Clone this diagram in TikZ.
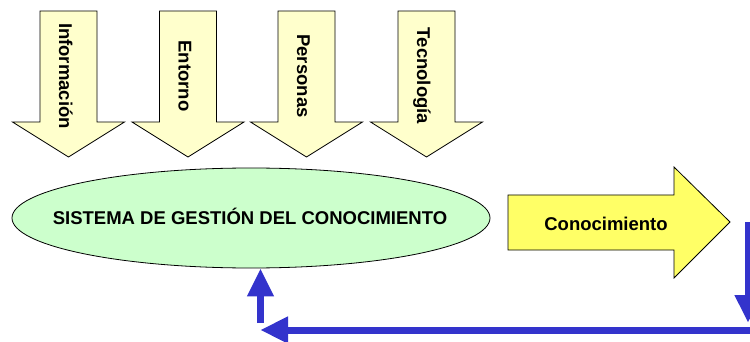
\documentclass[tikz,border=0pt]{standalone}
\usepackage{fontspec}
\setmainfont{Liberation Sans}
\usetikzlibrary{arrows.meta,shapes.geometric}
\definecolor{lyellow}{HTML}{FFFFCC}
\definecolor{yel}{HTML}{FFFF66}
\definecolor{lgreen}{HTML}{CCFFCC}
\definecolor{fblue}{HTML}{3333CC}
\begin{document}
\begin{tikzpicture}[x=1pt,y=-1pt,
  arrowbox/.style={draw=black,line width=0.8pt,line join=miter},
  dnarrow/.pic={\draw[arrowbox,fill=lyellow] (-28.5,11) -- (28.5,11) -- (28.5,122) -- (56,122) -- (0,157) -- (-56,122) -- (-28.5,122) -- cycle;},
  lbl/.style={font=\bfseries\fontsize{18.5}{20}\selectfont,inner sep=0pt},
  vtext/.style={lbl,rotate=-90,anchor=base},
  feedback/.style={draw=fblue,line width=7pt,-{Triangle[width=25pt,length=28pt]}}
]
\useasboundingbox (0,0) rectangle (750,342);
% top arrows
\pic at (68.5,0) {dnarrow};
\pic at (188,0) {dnarrow};
\pic at (306.5,0) {dnarrow};
\pic at (426.5,0) {dnarrow};
\node[vtext] (info) at (59,76) {Información};
\node[vtext] (ento) at (178.5,76) {Entorno};
\node[vtext] (pers) at (297,76) {Personas};
\node[vtext] (tecn) at (417,76) {Tecnología};
% ellipse
\node[ellipse,draw=black,line width=0.8pt,fill=lgreen,minimum width=478pt,minimum height=100pt,inner sep=0pt] (sgc) at (251,218) {};
\node[lbl,anchor=base] (sgct) at (250,225) {SISTEMA DE GESTIÓN DEL CONOCIMIENTO};
% right arrow
\draw[arrowbox,fill=yel] (508,195) -- (674,195) -- (674,167) -- (730,222) -- (674,278) -- (674,250) -- (508,250) -- cycle;
\node[lbl,anchor=base] (con) at (606,230) {Conocimiento};
% feedback loop
\coordinate (r1) at (748,222);
\coordinate (r2) at (748,323);
\coordinate (h1) at (760,330);
\coordinate (h2) at (260,330);
\coordinate (u1) at (260.5,323);
\coordinate (u2) at (sgc.south -| u1);
\draw[feedback] (r1) -- (r2);
\draw[feedback] (h1) -- (h2);
\draw[feedback] (u1) -- (u2);
\end{tikzpicture}
\end{document}
